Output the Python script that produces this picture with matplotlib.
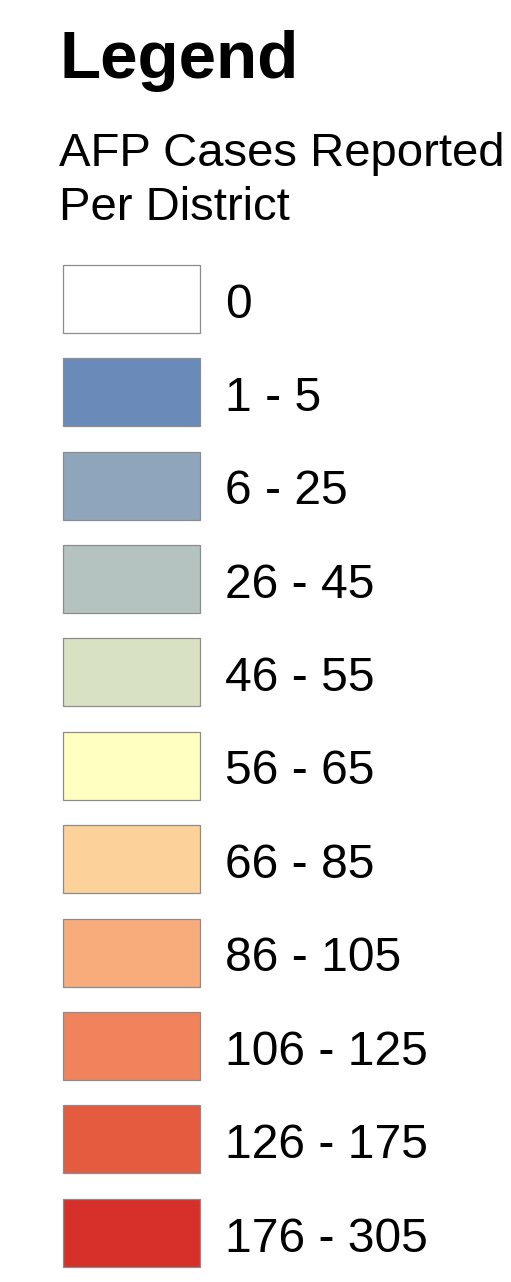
import matplotlib
matplotlib.use('Agg')
import matplotlib.pyplot as plt

# legend classes and fill colours
labels = ['0', '1 - 5', '6 - 25', '26 - 45', '46 - 55', '56 - 65',
          '66 - 85', '86 - 105', '106 - 125', '126 - 175', '176 - 305']
colors = ['#ffffff', '#6a8bba', '#8fa5bc', '#b4c3bf', '#d9e1c3', '#ffffc1',
          '#fcd29a', '#f8ab7b', '#f1835c', '#e55b40', '#d7302a']

title = 'Legend'
subtitle = ['AFP Cases Reported', 'Per District']

plt.rcParams['font.family'] = ['Liberation Sans', 'DejaVu Sans']

W, H = 511, 1282
fig = plt.figure(figsize=(W/100, H/100), dpi=100)
ax = fig.add_axes([0, 0, 1, 1])
ax.set_xlim(0, W)
ax.set_ylim(H, 0)
ax.axis('off')

# layout (pixels)
y0 = 298.7
step = 93.4
box_h = 68
box_left, box_w = 62.5, 137.5
text_x = 225

ys = [y0 + i*step for i in range(len(labels))]
ax.barh(ys, box_w, height=box_h, left=box_left, color=colors,
        edgecolor='#8c8c8c', linewidth=0.9)

for y, lab in zip(ys, labels):
    ax.text(text_x, y + 18.8, lab, fontsize=34.6, va='baseline', ha='left')

ax.text(60, 78, title, fontsize=48.5, fontweight='bold', va='baseline', ha='left')
ax.text(59, 166.5, subtitle[0], fontsize=34, va='baseline', ha='left')
ax.text(59, 220, subtitle[1], fontsize=34, va='baseline', ha='left')

fig.savefig('out.png', dpi=100)
